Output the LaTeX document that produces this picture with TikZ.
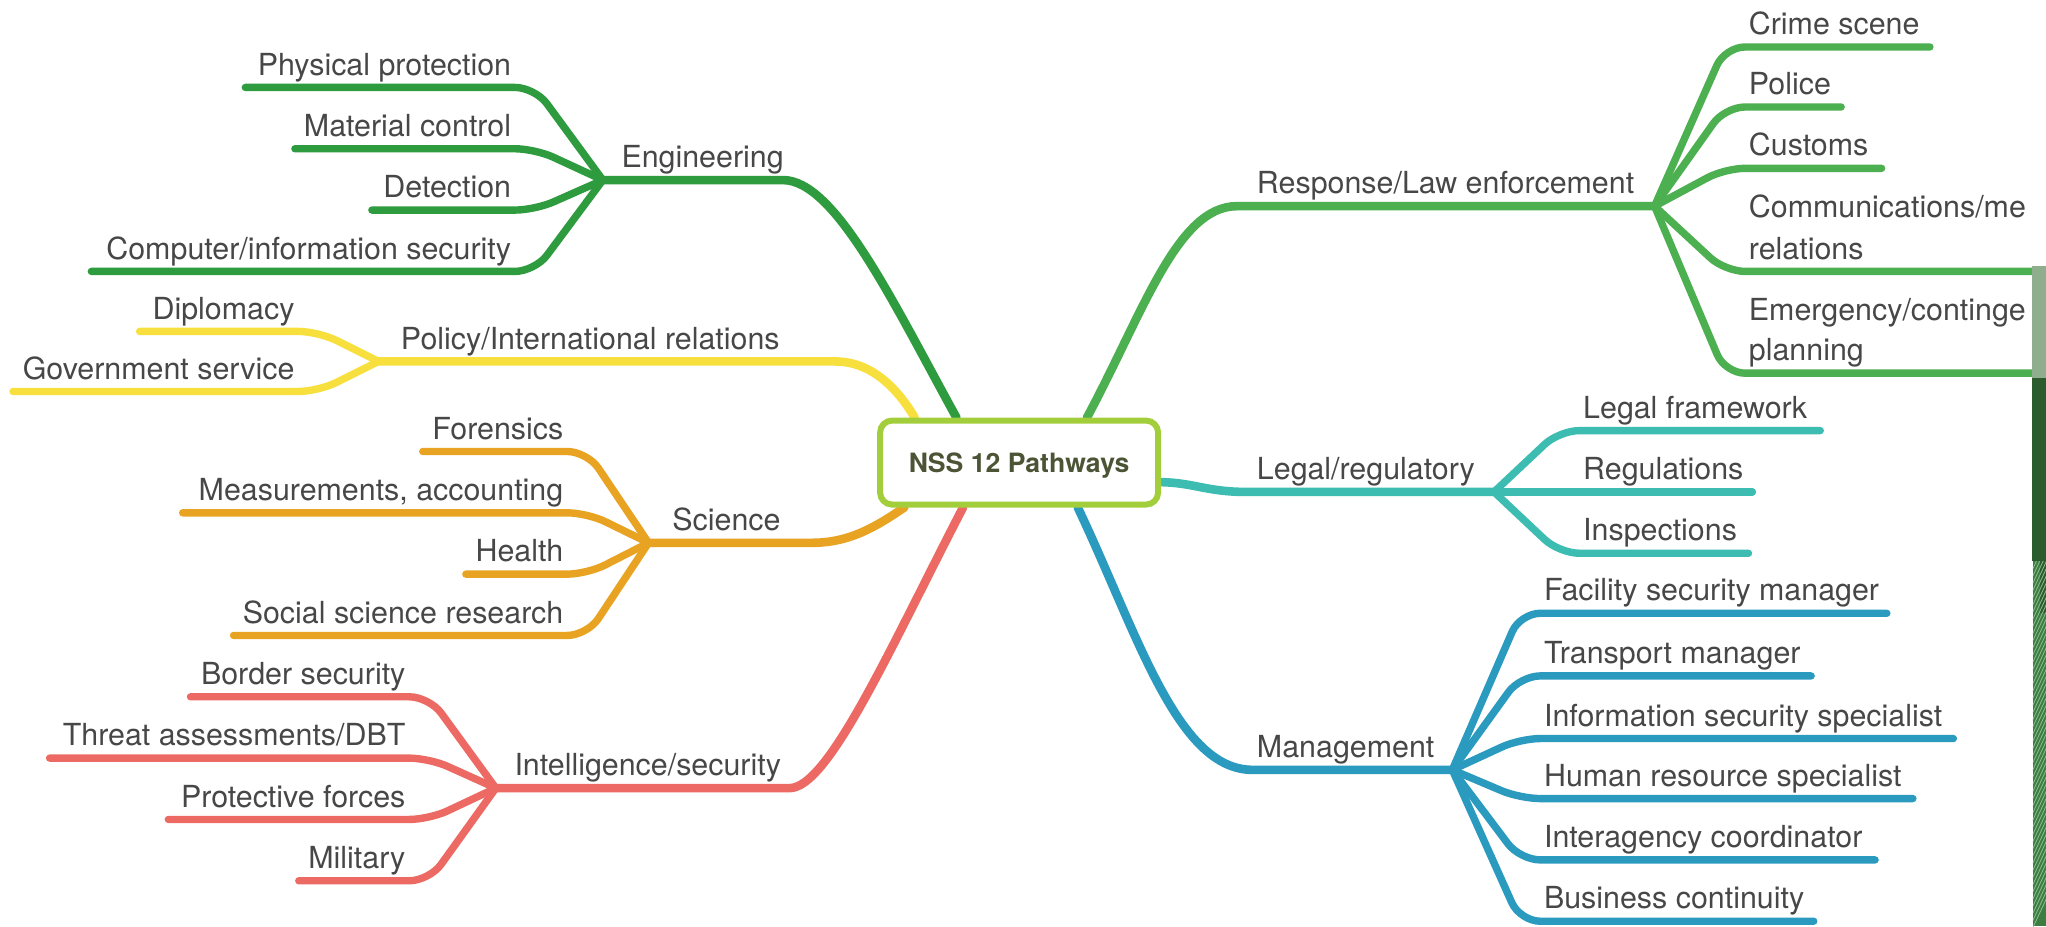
\documentclass[tikz,border=0pt]{standalone}
\usepackage{fontspec}
\setmainfont{TeX Gyre Heros}
\usetikzlibrary{calc,backgrounds}

\definecolor{engc}{HTML}{2E9B3E}
\definecolor{resc}{HTML}{4CAF50}
\definecolor{polc}{HTML}{F7E03E}
\definecolor{scic}{HTML}{E9A323}
\definecolor{intc}{HTML}{EC6A63}
\definecolor{legc}{HTML}{3DBDB2}
\definecolor{manc}{HTML}{2A9BBE}
\definecolor{boxc}{HTML}{A3CE3C}
\definecolor{txtc}{HTML}{474747}
\definecolor{coretxt}{HTML}{4B5536}
\definecolor{edgeA}{HTML}{8FAE8E}
\definecolor{edgeB}{HTML}{2C5B2E}
\definecolor{edgeC}{HTML}{3C7D42}
\definecolor{edgeD}{HTML}{8DBF90}

% a leaf branch on the left: name, colour, hub, start x, bend x, y, label
\newcommand\twigleft[7]{%
  \coordinate (#1-tip) at (#4,#6);
  \draw[twig,#2] (#1-tip) -- (#5,#6) -- (#3);
  \node[lblL] (#1) at (#5-18,#6-9.5) {#7};
}
% a leaf branch on the right: name, colour, hub, end x, bend x, y, label
\newcommand\twigright[7]{%
  \coordinate (#1-tip) at (#4,#6);
  \draw[twig,#2] (#3) -- (#5,#6) -- (#1-tip);
  \node[lblR] (#1) at (#5+18,#6-9.5) {#7};
}

\begin{document}
\begin{tikzpicture}[x=0.6525pt,y=-0.6525pt,
  twig/.style={line width=3.7pt,line cap=round,rounded corners=10pt},
  limb/.style={line width=4.3pt,line cap=round},
  lbl/.style={inner sep=0pt,text=txtc,font=\fontsize{15.2}{18}\selectfont},
  lblL/.style={lbl,anchor=base east},
  lblR/.style={lbl,anchor=base west},
  corebox/.style={draw=boxc,line width=3pt,fill=white,rounded corners=6pt,
    minimum width=139pt,minimum height=42pt,inner sep=0pt,text depth=0pt,
    text=coretxt,font=\bfseries\fontsize{13.3}{16}\selectfont}]
\useasboundingbox (0,0) rectangle (1568,710);

% central topic
\node[corebox] (core) at (781,354.5) {NSS 12 Pathways};

% hubs where the leaves fan out
\coordinate (E) at (462,138);
\coordinate (P) at (290,277);
\coordinate (S) at (497,416);
\coordinate (I) at (380,604);
\coordinate (R) at (1268,158);
\coordinate (L) at (1145,377);
\coordinate (M) at (1113,590);

% main limbs, behind the central box
\begin{scope}[on background layer]
  \fill[white] (0,0) rectangle (1568,710);
  \draw[limb,engc] (E) -- (600,138) .. controls (640,138) and (684,231) .. ($(core.north)+(-48,0)$);
  \draw[limb,polc] (P) -- (640,277) .. controls (668,277) and (688,298) .. ($(core.north)+(-80,0)$);
  \draw[limb,scic] (S) -- (622,416) .. controls (652,416) and (672,403) .. ($(core.south)+(-88,0)$);
  \draw[limb,intc] (I) -- (605,604) .. controls (635,604) and (682,497) .. ($(core.south)+(-43,0)$);
  \draw[limb,resc] ($(core.north)+(52,0)$) .. controls (876,240) and (902,158) .. (948,158) -- (R);
  \draw[limb,legc] ($(core.east)+(0,15)$) .. controls (915,370) and (925,377) .. (955,377) -- (L);
  \draw[limb,manc] ($(core.south)+(45,0)$) .. controls (872,486) and (902,590) .. (960,590) -- (M);
\end{scope}

% limb labels
\node[lblR] (eng) at (476,128.5) {Engineering};
\node[lblR] (pol) at (307,267.5) {Policy/International relations};
\node[lblR] (sci) at (515,406.5) {Science};
\node[lblR] (int) at (394,594.5) {Intelligence/security};
\node[lblR] (res) at (963,148.5) {Response/Law enforcement};
\node[lblR] (leg) at (963,367.5) {Legal/regulatory};
\node[lblR] (man) at (963,580.5) {Management};

% Engineering
\twigleft{phys}{engc}{E}{188}{410}{67}{Physical protection}
\twigleft{matc}{engc}{E}{226}{410}{114}{Material control}
\twigleft{detc}{engc}{E}{285}{410}{161}{Detection}
\twigleft{comp}{engc}{E}{70}{410}{208}{Computer/information security}
% Policy
\twigleft{dipl}{polc}{P}{107}{244}{254}{Diplomacy}
\twigleft{govt}{polc}{P}{10}{244}{300}{Government service}
% Science
\twigleft{fore}{scic}{S}{324}{450}{346}{Forensics}
\twigleft{meas}{scic}{S}{140}{450}{393}{Measurements, accounting}
\twigleft{hlth}{scic}{S}{357}{450}{440}{Health}
\twigleft{socs}{scic}{S}{179}{450}{487}{Social science research}
% Intelligence
\twigleft{bord}{intc}{I}{146}{329}{534}{Border security}
\twigleft{thrt}{intc}{I}{38}{329}{581}{Threat assessments/DBT}
\twigleft{prot}{intc}{I}{129}{329}{628}{Protective forces}
\twigleft{milt}{intc}{I}{229}{329}{675}{Military}
% Response
\twigright{crim}{resc}{R}{1479}{1322}{36}{Crime scene}
\twigright{polx}{resc}{R}{1411}{1322}{82}{Police}
\twigright{cust}{resc}{R}{1442}{1322}{129}{Customs}
\twigright{comm}{resc}{R}{1566}{1322}{208}{relations}
\node[lblR] (comm-top) at (1340,167) {Communications/me};
\twigright{emer}{resc}{R}{1566}{1322}{286}{planning}
\node[lblR] (emer-top) at (1340,245.5) {Emergency/continge};
% Legal
\twigright{lfrm}{legc}{L}{1395}{1195}{330}{Legal framework}
\twigright{regs}{legc}{L}{1343}{1195}{377}{Regulations}
\twigright{insp}{legc}{L}{1340}{1195}{424}{Inspections}
% Management
\twigright{facl}{manc}{M}{1446}{1165}{470}{Facility security manager}
\twigright{trns}{manc}{M}{1388}{1165}{518}{Transport manager}
\twigright{infs}{manc}{M}{1497}{1165}{566}{Information security specialist}
\twigright{hres}{manc}{M}{1466}{1165}{612}{Human resource specialist}
\twigright{intr}{manc}{M}{1437}{1165}{659}{Interagency coordinator}
\twigright{busc}{manc}{M}{1390}{1165}{706}{Business continuity}

% green page edge on the right
\fill[edgeA] (1557,204) rectangle (1568,290);
\fill[edgeB] (1557,290) rectangle (1568,430);
\fill[edgeC] (1558,430) rectangle (1568,710);
\fill[edgeB] (1563,430) rectangle (1568,470);
\begin{scope}
  \clip (1558,430) rectangle (1568,710);
  \foreach \k in {0,...,50}
    \draw[edgeD,line width=0.4pt] (1556,440+5.5*\k) -- (1570,410+5.5*\k);
\end{scope}
\end{tikzpicture}
\end{document}
